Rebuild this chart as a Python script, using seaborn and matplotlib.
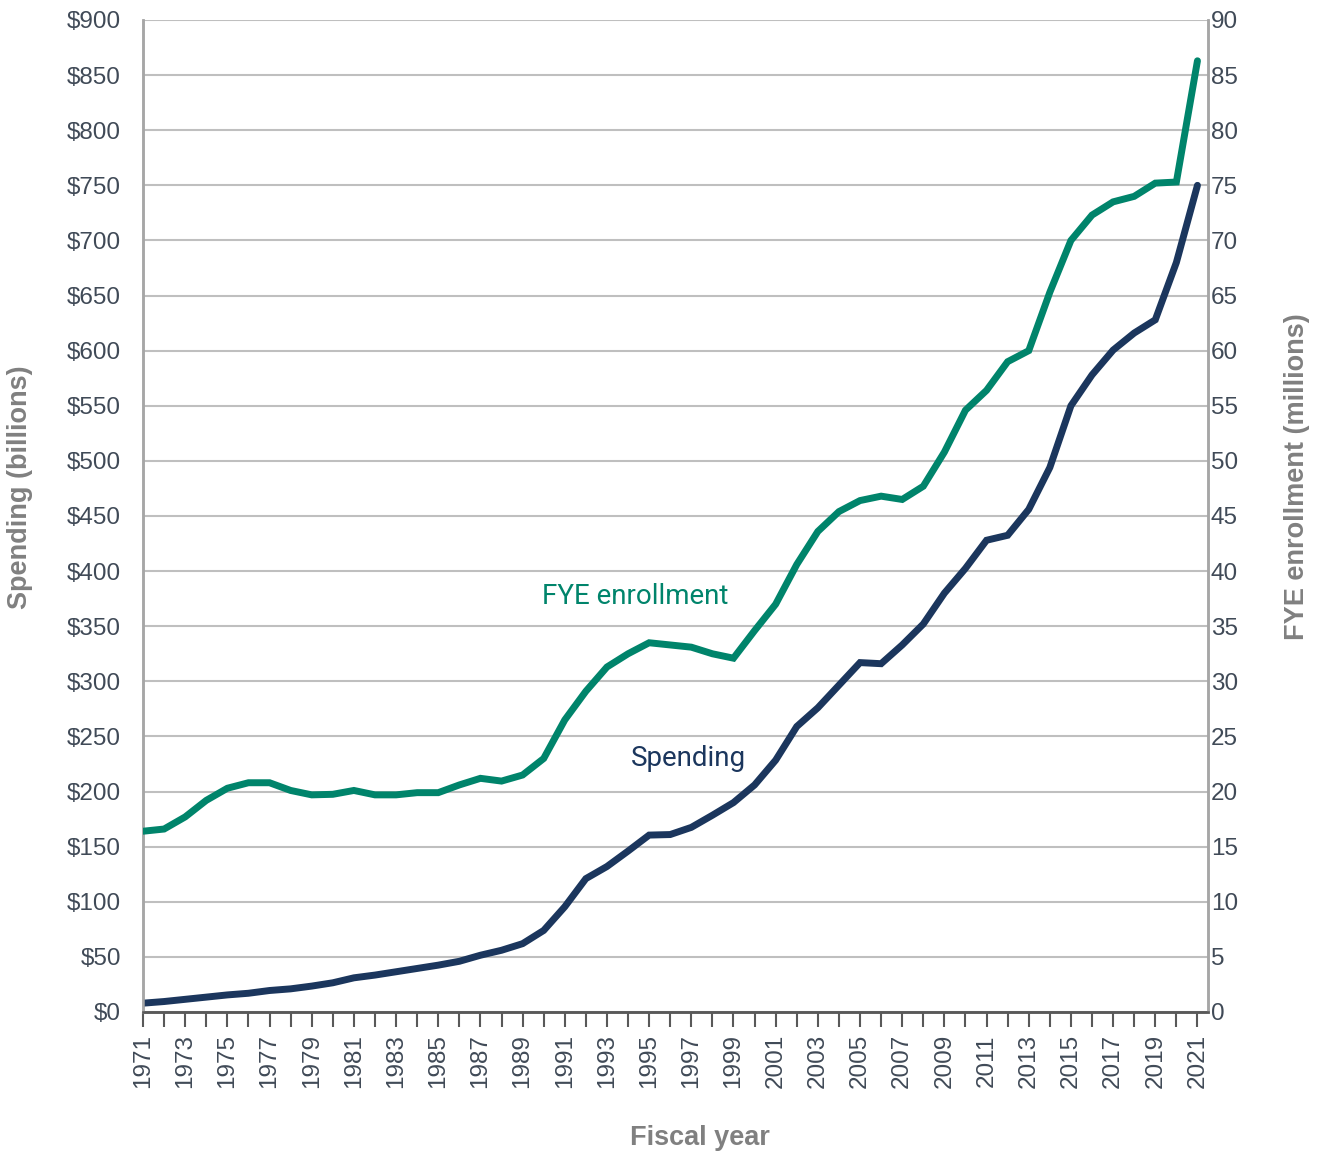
import numpy as np
import pandas as pd
import matplotlib
matplotlib.use("Agg")
import matplotlib.pyplot as plt
import seaborn as sns

years = list(range(1971, 2022))
spending = [8, 9.5, 11.5, 13.5, 15.5, 17, 19.5, 21, 23.5, 26.5, 31, 33.5, 36.5, 39.5, 42.5, 46,
            51.5, 56, 62, 74, 95.5, 121, 132, 146, 160.5, 161, 167.5, 178.5, 190, 206, 228.5,
            259, 276, 296.5, 317, 316, 333, 352, 380, 402.5, 428, 432.5, 456, 494, 550,
            578, 600.5, 616, 628, 680, 750]
enrollment = [16.4, 16.6, 17.7, 19.2, 20.3, 20.8, 20.8, 20.1, 19.7, 19.75, 20.1, 19.7, 19.7, 19.9,
              19.9, 20.6, 21.2, 20.95, 21.5, 23.0, 26.5, 29.1, 31.3, 32.5, 33.5, 33.3, 33.1, 32.5,
              32.1, 34.6, 37.0, 40.6, 43.6, 45.4, 46.4, 46.8, 46.5, 47.7, 50.8, 54.6, 56.4, 59.0,
              60.0, 65.3, 70.0, 72.3, 73.5, 74.0, 75.2, 75.3, 86.3]
left_ticks = list(range(0, 901, 50))
right_ticks = list(range(0, 91, 5))

df = pd.DataFrame({"year": years, "spending": spending, "enrollment": enrollment})

sns.set_theme(style="white")
plt.rcParams["font.family"] = ["Liberation Sans", "DejaVu Sans"]

GREEN = "#00846B"
NAVY = "#1B365D"
TICKC = "#404A57"
LABC = "#808080"
GRID = "#BFBFBF"
TFS = 17.5

fig = plt.figure(figsize=(13.17, 11.55), dpi=100)
ax = fig.add_axes([143/1317, (1155-1012)/1155, (1208-143)/1317, (1012-20)/1155])
ax2 = ax.twinx()

sns.lineplot(data=df, x="year", y="spending", ax=ax, color=NAVY, linewidth=5,
             solid_capstyle="round", solid_joinstyle="miter", zorder=3)
sns.lineplot(data=df, x="year", y="enrollment", ax=ax2, color=GREEN, linewidth=5,
             solid_capstyle="round", solid_joinstyle="miter", zorder=3)

ax.set_xlim(1971, 2021.5)
ax.set_ylim(0, 900)
ax2.set_ylim(0, 90)

ax.set_yticks(left_ticks)
ax.set_yticklabels([f"${v}" for v in left_ticks], fontsize=TFS, color=TICKC)
ax2.set_yticks(right_ticks)
ax2.set_yticklabels([str(v) for v in right_ticks], fontsize=TFS, color=TICKC)

ax.set_xticks(years)
ax.set_xticklabels([str(y) if (y - 1971) % 2 == 0 else "" for y in years],
                   rotation=90, fontsize=TFS, color=TICKC)
ax.tick_params(axis="x", direction="out", length=11, width=1.5, color="#595959", pad=5,
               bottom=True)
ax.tick_params(axis="y", length=0, pad=16)
ax2.tick_params(axis="y", length=0, pad=2)

ax.yaxis.grid(True, color=GRID, linewidth=1.5)
ax.xaxis.grid(False)
ax2.grid(False)

for a in (ax, ax2):
    a.spines["top"].set_visible(False)
    a.spines["left"].set_color("#A6A6A6")
    a.spines["left"].set_linewidth(1.8)
    a.spines["right"].set_color("#A6A6A6")
    a.spines["right"].set_linewidth(1.8)
    a.spines["bottom"].set_color("#595959")
    a.spines["bottom"].set_linewidth(1.8)

ax.set_xlabel("")
ax.set_ylabel("Spending (billions)", fontsize=19.5, fontweight="bold", color=LABC)
ax.yaxis.set_label_coords((33 - 143) / 1065, (1012 - 487) / 992)
ax2.set_ylabel("FYE enrollment (millions)", fontsize=19.5, fontweight="bold", color=LABC)
ax2.yaxis.set_label_coords((1284 - 143) / 1065, (1012 - 477) / 992)

ax.text(1994.35, 377, "FYE enrollment", color=GREEN, fontsize=20, ha="center", va="center",
        family=["Roboto", "DejaVu Sans"])
ax.text(1996.85, 230, "Spending", color=NAVY, fontsize=20, ha="center", va="center",
        family=["Roboto", "DejaVu Sans"])

fig.text(700/1317, 1 - 1138/1155, "Fiscal year", fontsize=19.5, fontweight="bold", color=LABC,
         ha="center", va="center", family=["Liberation Sans Narrow", "Liberation Sans", "DejaVu Sans"])

fig.savefig("out.png", dpi=100)
